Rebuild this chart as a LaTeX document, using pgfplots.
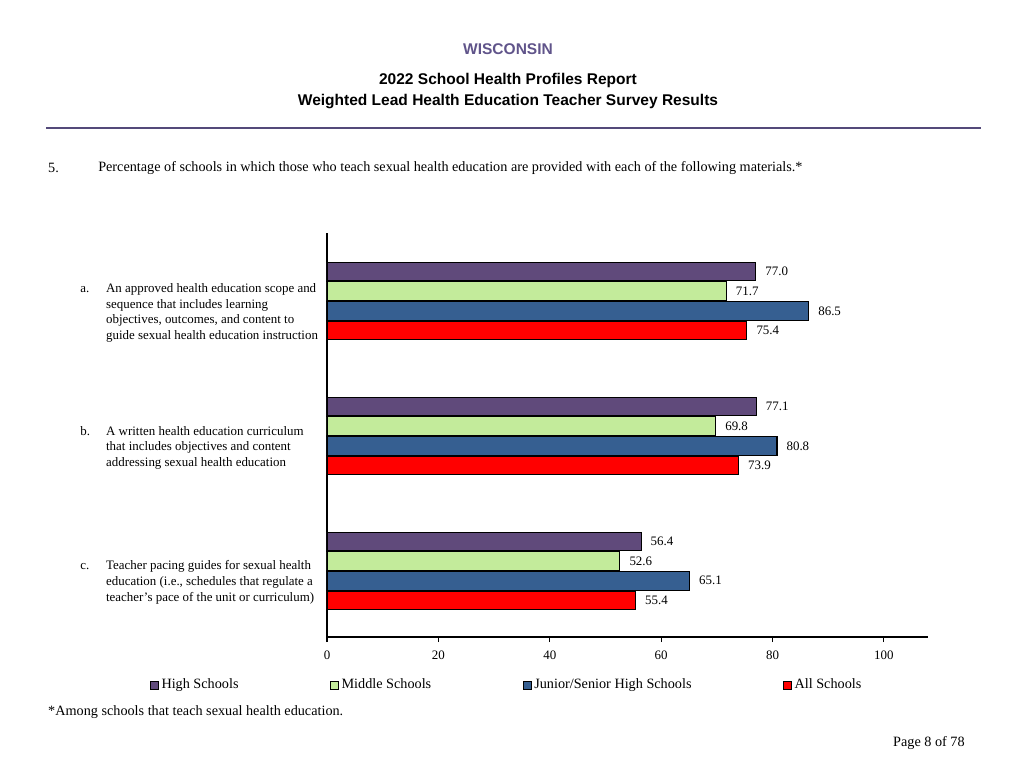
\documentclass[border=0pt]{standalone}
\usepackage{pgfplots}
\pgfplotsset{compat=1.18}
\usepackage{fontspec}
\setmainfont{Liberation Serif}
\newfontfamily\hsans{Liberation Sans}
\definecolor{hspurple}{RGB}{96,74,123}
\definecolor{msgreen}{RGB}{195,235,155}
\definecolor{jsblue}{RGB}{54,95,145}
\definecolor{allred}{RGB}{255,0,0}
\definecolor{headpurple}{RGB}{96,84,138}
\definecolor{linepurple}{RGB}{84,74,122}
\pgfplotsset{/pgf/number format/assume math mode=true}
\begin{document}
\begin{tikzpicture}
\path[use as bounding box] (0,0) rectangle (792pt,594pt);
\node[font=\hsans\bfseries\fontsize{12}{14}\selectfont, text=headpurple, inner sep=0pt] at (392.9pt,556.1pt) {WISCONSIN};
\node[font=\hsans\bfseries\fontsize{12}{14}\selectfont, inner sep=0pt] at (392.9pt,531.6pt) {2022 School Health Profiles Report};
\node[font=\hsans\bfseries\fontsize{12}{14}\selectfont, inner sep=0pt] at (392.9pt,515.1pt) {Weighted Lead Health Education Teacher Survey Results};
\draw[linepurple, line width=2.3pt] (35.6pt,495pt) -- (758.7pt,495pt);
\node[font=\fontsize{11}{13}\selectfont, anchor=west, inner sep=0pt] at (37.1pt,464pt) {5.};
\node[font=\fontsize{11}{13}\selectfont, anchor=west, inner sep=0pt] at (75.8pt,464pt) {Percentage of schools in which those who teach sexual health education are provided with each of the following materials.*};
\node[font=\fontsize{11}{13}\selectfont, anchor=west, inner sep=0pt] at (37.1pt,43.3pt) {*Among schools that teach sexual health education.};
\node[font=\fontsize{11}{13}\selectfont, anchor=east, inner sep=0pt] at (746.3pt,19.3pt) {Page 8 of 78};
\begin{axis}[
  at={(252.9pt,101.3pt)}, anchor=south west,
  scale only axis, width=464.8pt, height=312.5pt,
  xbar=0.8pt, bar width=14.4pt,
  xmin=0, xmax=107.9, ymin=-0.49, ymax=2.505,
  axis x line*=bottom, axis y line*=left,
  axis line style={line width=1pt,-},
  xtick={0,20,40,60,80,100}, xtick align=outside, major tick length=4pt,
  xtick style={black, line width=0.8pt},
  xticklabel style={font=\fontsize{10}{12}\selectfont, yshift=-3pt},
  ytick={0,1,2}, ytick style={draw=none},
  yticklabel style={font=\fontsize{10}{12.2}\selectfont, inner sep=0pt, anchor=west, xshift=-187pt, yshift=-9pt},
  yticklabels={
    {\begin{tabular}{@{}p{20pt}@{}l@{}}c. & Teacher pacing guides for sexual health\\ & education (i.e., schedules that regulate a\\ & teacher’s pace of the unit or curriculum)\end{tabular}},
    {\begin{tabular}{@{}p{20pt}@{}l@{}}b. & A written health education curriculum\\ & that includes objectives and content\\ & addressing sexual health education\end{tabular}},
    {\begin{tabular}{@{}p{20pt}@{}l@{}}a. & An approved health education scope and\\ & sequence that includes learning\\ & objectives, outcomes, and content to\\ & guide sexual health education instruction\end{tabular}}
  },
  point meta=x,
  nodes near coords={\pgfmathprintnumber[fixed,fixed zerofill,precision=1]{\pgfplotspointmeta}},
  nodes near coords style={anchor=west, font=\fontsize{10}{12}\selectfont, inner sep=0pt, xshift=7pt, black},
  every axis plot/.append style={draw=black, line width=0.8pt},
  legend columns=4,
  reverse legend,
  legend style={at={(-0.2945,-0.1188)}, anchor=west, draw=none, fill=none, inner sep=0pt,
    font=\fontsize{11}{13}\selectfont,
    /tikz/every even column/.append style={column sep=69pt}},
  legend image code/.code={\draw[#1, draw=black, line width=0.5pt] (0pt,-3.1pt) rectangle (6.2pt,3.1pt);},
]
\addplot[fill=allred] coordinates {(75.4,2) (73.9,1) (55.4,0)};
\addlegendentry{All Schools}
\addplot[fill=jsblue] coordinates {(86.5,2) (80.8,1) (65.1,0)};
\addlegendentry{Junior/Senior High Schools}
\addplot[fill=msgreen] coordinates {(71.7,2) (69.8,1) (52.6,0)};
\addlegendentry{Middle Schools}
\addplot[fill=hspurple] coordinates {(77.0,2) (77.1,1) (56.4,0)};
\addlegendentry{High Schools}
\end{axis}
\end{tikzpicture}
\end{document}
